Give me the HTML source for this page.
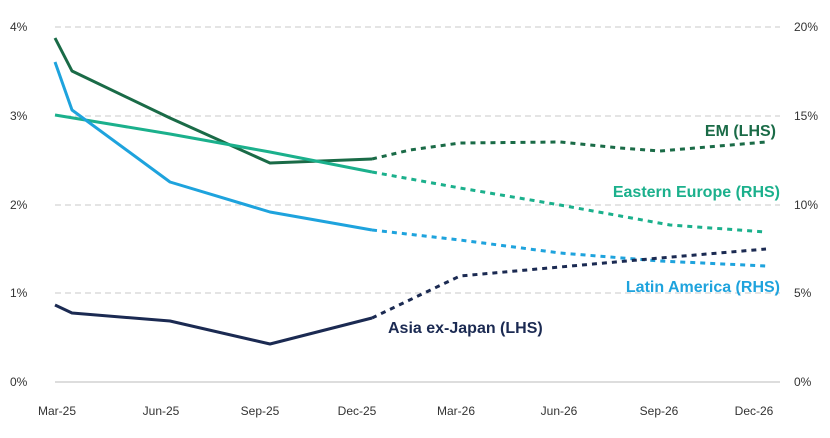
<!DOCTYPE html>
<html><head><meta charset="utf-8"><style>
body{margin:0;background:#fff;}
svg{display:block;font-family:"Liberation Sans",sans-serif;}
</style></head><body>
<svg width="830" height="438" viewBox="0 0 830 438">
<g stroke="#c8c8c8" stroke-dasharray="6,4" stroke-width="1">
<line x1="55" y1="27" x2="780" y2="27"/>
<line x1="55" y1="116" x2="780" y2="116"/>
<line x1="55" y1="205" x2="780" y2="205"/>
<line x1="55" y1="293" x2="780" y2="293"/>
</g>
<line x1="55" y1="382" x2="780" y2="382" stroke="#bbb" stroke-width="1"/>
<g font-size="12" fill="#333" text-anchor="start">
<text x="10" y="31">4%</text><text x="10" y="120">3%</text><text x="10" y="209">2%</text><text x="10" y="297">1%</text><text x="10" y="386">0%</text>
<text x="794" y="31">20%</text><text x="794" y="120">15%</text><text x="794" y="209">10%</text><text x="794" y="297">5%</text><text x="794" y="386">0%</text>
</g>
<g font-size="12" fill="#333" text-anchor="middle">
<text x="57" y="415">Mar-25</text><text x="161" y="415">Jun-25</text><text x="260" y="415">Sep-25</text><text x="357" y="415">Dec-25</text>
<text x="456" y="415">Mar-26</text><text x="559" y="415">Jun-26</text><text x="659" y="415">Sep-26</text><text x="754" y="415">Dec-26</text>
</g>
<g fill="none" stroke-width="3" stroke-linejoin="round">
<polyline stroke="#1a6b47" points="55,38 72,71 170,118 270,163 372,159"/>
<polyline stroke="#1a6b47" stroke-dasharray="5,5" points="372,159 410,150 460,143 560,142 620,148 660,151 766,142"/>
<polyline stroke="#1bb08c" points="55,115 170,134 270,152 372,172"/>
<polyline stroke="#1bb08c" stroke-dasharray="5,5" points="372,172 460,188 560,205 670,225 766,232"/>
<polyline stroke="#1ea3dd" points="55,62 72,110 170,182 270,212 372,230"/>
<polyline stroke="#1ea3dd" stroke-dasharray="5,5" points="372,230 460,240 560,253 660,261 766,266"/>
<polyline stroke="#1b2a52" points="55,305 72,313 170,321 270,344 372,318"/>
<polyline stroke="#1b2a52" stroke-dasharray="5,5" points="372,318 420,295 460,276 560,267 660,258 766,249"/>
</g>
<g font-size="16" font-weight="bold">
<text x="776" y="136" text-anchor="end" fill="#1a6b47">EM (LHS)</text>
<text x="780" y="197" text-anchor="end" fill="#1bb08c">Eastern Europe (RHS)</text>
<text x="780" y="292" text-anchor="end" fill="#1ea3dd">Latin America (RHS)</text>
<text x="388" y="333" fill="#1b2a52">Asia ex-Japan (LHS)</text>
</g>
</svg>
</body></html>
